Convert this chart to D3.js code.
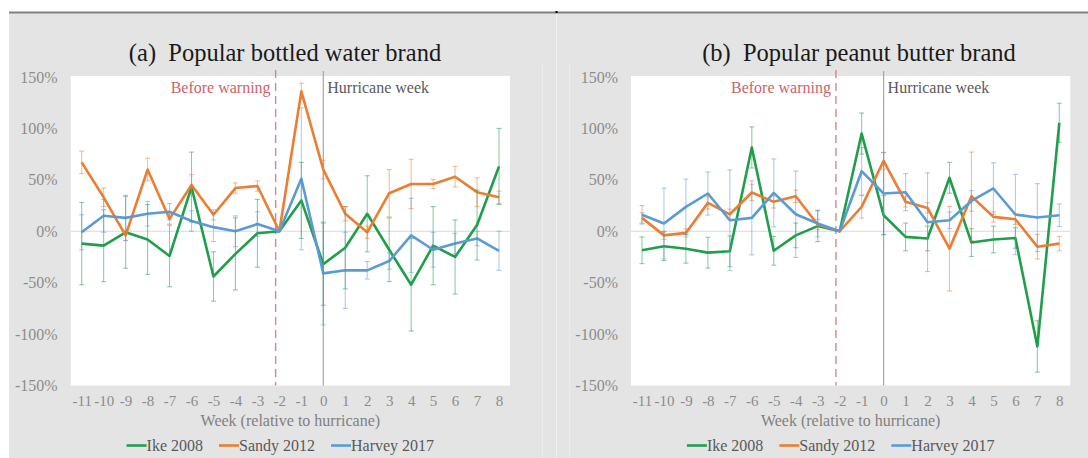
<!DOCTYPE html>
<html>
<head>
<meta charset="utf-8">
<script src="https://cdn.jsdelivr.net/npm/d3@7"></script>
<style>
  html, body { margin: 0; padding: 0; background: #ffffff; }
  svg { display: block; }
  text { font-family: "Liberation Serif", "Times New Roman", serif; }
</style>
</head>
<body>
<svg id="chart" width="1088" height="458"></svg>
<script>
// Weeks relative to landfall
const weeks = [-11, -10, -9, -8, -7, -6, -5, -4, -3, -2, -1, 0, 1, 2, 3, 4, 5, 6, 7, 8];
const yTicks = [-150, -100, -50, 0, 50, 100, 150];

const seriesNames = ["Ike 2008", "Sandy 2012", "Harvey 2017"];
const panelTitles = ["(a)  Popular bottled water brand", "(b)  Popular peanut butter brand"];

// (a) bottled water: % change in sales, with error half-widths
const ikeWater      = [-12, -14, -1, -8, -24, 43, -44, -22, -2, 0, 30, -32, -16, 17, -18, -52, -14, -25, 6, 63];
const sandyWater    = [67, 33, -4, 60, 12, 45, 16, 42, 44, 0, 136, 60, 17, -1, 37, 46, 46, 53, 38, 33];
const harveyWater   = [-1, 15, 13, 17, 19, 10, 4, 0, 7, 0, 51, -41, -38, -38, -29, -4, -18, -12, -7, -19];
const ikeWaterErr   = [40, 35, 35, 34, 30, 34, 24, 35, 33, 0, 37, 40, 40, 37, 31, 45, 38, 36, 34, 37];
const sandyWaterErr = [11, 9, 5, 11, 5, 10, 5, 5, 5, 0, 8, 9, 7, 6, 23, 24, 4.5, 10, 14, 6];
const harveyWaterErr= [17, 16, 22, 12, 8, 10, 14, 15, 12, 0, 69, 50, 37, 8.5, 8, 36, 17, 10, 7, 19];

// (b) peanut butter
const ikePB       = [-18.5, -14.6, -17, -20.8, -19.5, 81.5, -19, -4, 5, 0, 95, 15.6, -5.5, -7, 52, -11, -8, -6.5, -112, 105.5];
const sandyPB     = [13, -4, -1.6, 27.6, 16.5, 37.7, 28.6, 34, 6.5, 0, 23.7, 68.5, 28.6, 22.7, -17, 34, 14, 11.7, -15, -12];
const harveyPB    = [16, 7.5, 23.7, 36.7, 10.7, 13, 37.3, 16.5, 7.5, 0, 58.4, 36.7, 38, 8.8, 10.7, 29.5, 41.6, 16.3, 13.3, 15.6];
const ikePBErr    = [13, 14, 14, 15, 15, 20, 14, 12, 15, 0, 20, 19, 13.5, 12, 15, 13.5, 13, 10, 25, 19];
const sandyPBErr  = [5, 4, 4, 6, 5, 8, 6, 6, 5, 0, 11, 8, 5, 5, 41, 43, 5, 5, 12, 7];
const harveyPBErr = [9, 34.5, 27, 21, 49, 36, 33, 42, 13, 0, 23, 40, 18, 48, 8, 10, 25, 39, 33, 11];

// Reference markers on the week axis
const warningWeek = -2.17;
const hurricaneWeek = 0;

const colors = ["#1f9e4b", "#ed7d31", "#5b9bd5"];

const panels = [
  { title: panelTitles[0], titleX: 285, left: 70.7,
    values: [ikeWater, sandyWater, harveyWater],
    errors: [ikeWaterErr, sandyWaterErr, harveyWaterErr] },
  { title: panelTitles[1], titleX: 859, left: 631,
    values: [ikePB, sandyPB, harveyPB],
    errors: [ikePBErr, sandyPBErr, harveyPBErr] }
];

const plotW = 439.3, plotTop = 76, plotBottom = 385.5;
const labelSize = 16;
const weekLabelSize = 15;

const svg = d3.select("#chart");

// background frame
svg.append("rect").attr("x", 9).attr("y", 13).attr("width", 1079).attr("height", 445).attr("fill", "#e4e4e4");
svg.append("line").attr("x1", 9).attr("x2", 1088).attr("y1", 12.5).attr("y2", 12.5)
  .attr("stroke", "#808080").attr("stroke-width", 2);
svg.append("rect").attr("x", 555.5).attr("y", 11).attr("width", 2).attr("height", 2).attr("fill", "#000");
svg.append("line").attr("x1", 556.5).attr("x2", 556.5).attr("y1", 14).attr("y2", 458)
  .attr("stroke", "#efefef").attr("stroke-width", 1);
[542.5, 569.5].forEach(x => {
  svg.append("line").attr("x1", x).attr("x2", x).attr("y1", 63).attr("y2", 458)
    .attr("stroke", "#ebebeb").attr("stroke-width", 1);
});

const y = d3.scaleLinear().domain([-150, 150]).range([plotBottom, 77]);

panels.forEach(p => {
  const g = svg.append("g");
  const x = d3.scalePoint().domain(weeks).range([p.left, p.left + plotW]).padding(0.5);
  const xLin = d3.scaleLinear().domain([weeks[0], weeks[weeks.length - 1]])
    .range([x(weeks[0]), x(weeks[weeks.length - 1])]);
  const cx = p.left + plotW / 2;

  // title
  g.append("text").attr("x", p.titleX).attr("y", 61).attr("text-anchor", "middle")
    .style("white-space", "pre").attr("font-size", 24.5).attr("fill", "#1a1a1a").text(p.title);

  // plot area
  g.append("rect").attr("x", p.left).attr("y", plotTop).attr("width", plotW)
    .attr("height", plotBottom - plotTop).attr("fill", "#ffffff");

  // zero line
  g.append("line").attr("x1", p.left).attr("x2", p.left + plotW).attr("y1", y(0)).attr("y2", y(0))
    .attr("stroke", "#d9d9d9").attr("stroke-width", 1);

  // y axis
  const yAxis = d3.axisLeft(y).tickValues(yTicks).tickSize(0).tickPadding(13)
    .tickFormat(d => d + "%");
  const ya = g.append("g").attr("transform", `translate(${p.left},0)`).call(yAxis);
  ya.select(".domain").remove();
  ya.selectAll("text").attr("font-size", labelSize).attr("fill", "#8c8c8c")
    .style("font-family", "'Liberation Serif', serif");

  // x axis
  const xAxis = d3.axisBottom(x).tickSize(0).tickPadding(10).tickFormat(d => String(d));
  const xa = g.append("g").attr("transform", `translate(0,${plotBottom})`).call(xAxis);
  xa.select(".domain").remove();
  xa.selectAll("text").attr("font-size", weekLabelSize).attr("fill", "#8c8c8c")
    .style("font-family", "'Liberation Serif', serif");

  g.append("text").attr("x", cx).attr("y", 426).attr("text-anchor", "middle")
    .attr("font-size", labelSize).attr("fill", "#808080").text("Week (relative to hurricane)");

  // markers
  const wx = xLin(warningWeek);
  g.append("line").attr("x1", wx).attr("x2", wx).attr("y1", 70).attr("y2", plotBottom)
    .attr("stroke", "#d9868a").attr("stroke-width", 1.4).attr("stroke-dasharray", "8,5");
  g.append("text").attr("x", wx - 5).attr("y", 92.5).attr("text-anchor", "end")
    .attr("font-size", labelSize).attr("fill", "#c9656b").text("Before warning");
  const hx = xLin(hurricaneWeek);
  g.append("line").attr("x1", hx).attr("x2", hx).attr("y1", 71).attr("y2", plotBottom)
    .attr("stroke", "#a6a6a6").attr("stroke-width", 1.2);
  g.append("text").attr("x", hx + 4).attr("y", 92.5).attr("text-anchor", "start")
    .attr("font-size", labelSize).attr("fill", "#5a5a5a").text("Hurricane week");

  // series lines
  const line = d3.line().x((d, i) => x(weeks[i])).y(d => y(d));
  p.values.forEach((vals, s) => {
    g.append("path").datum(vals).attr("d", line).attr("fill", "none")
      .attr("stroke", colors[s]).attr("stroke-width", 2.6).attr("stroke-linejoin", "round");
  });

  // error bars
  p.values.forEach((vals, s) => {
    const eg = g.append("g").attr("stroke", colors[s]).attr("stroke-opacity", 0.5).attr("stroke-width", 1.1);
    vals.forEach((v, i) => {
      const e = p.errors[s][i];
      if (!e) return;
      const px = x(weeks[i]);
      eg.append("line").attr("x1", px).attr("x2", px).attr("y1", y(v + e)).attr("y2", y(v - e));
      [v + e, v - e].forEach(c => {
        eg.append("line").attr("x1", px - 2.5).attr("x2", px + 2.5).attr("y1", y(c)).attr("y2", y(c));
      });
    });
  });

  // legend
  const lg = g.append("g");
  let cursor = 0;
  seriesNames.forEach((name, s) => {
    const it = lg.append("g");
    it.append("line").attr("x1", 0).attr("x2", 20).attr("y1", 0).attr("y2", 0)
      .attr("stroke", colors[s]).attr("stroke-width", 2.6);
    const t = it.append("text").attr("x", 20).attr("y", 5.5).attr("font-size", labelSize)
      .attr("fill", "#595959").text(name);
    const w = 20 + t.node().getComputedTextLength();
    it.attr("transform", `translate(${cursor},0)`);
    cursor += w + 16;
  });
  const total = cursor - 16;
  lg.attr("transform", `translate(${cx - 10 - total / 2},445.5)`);
});
</script>
</body>
</html>
